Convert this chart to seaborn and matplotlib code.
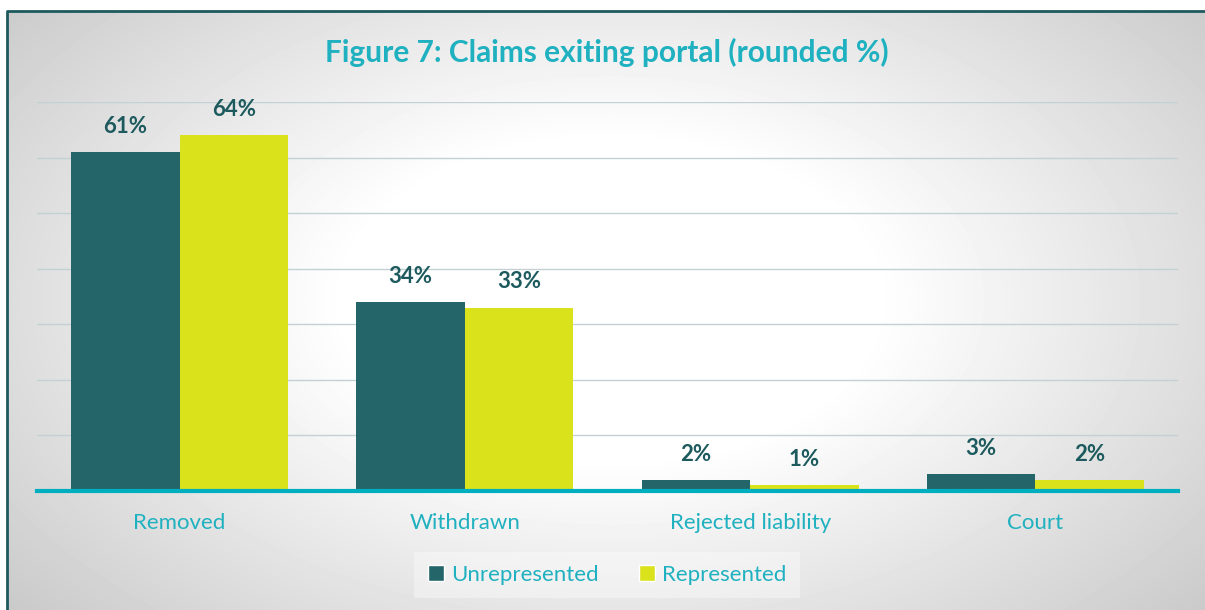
import numpy as np
import pandas as pd
import seaborn as sns
import matplotlib.pyplot as plt
from matplotlib.patches import Patch

categories = ["Removed", "Withdrawn", "Rejected liability", "Court"]
unrepresented = [61, 34, 2, 3]
represented = [64, 33, 1, 2]
groups = ["Unrepresented", "Represented"]

df = pd.DataFrame({
    "Outcome": categories * 2,
    "Share": unrepresented + represented,
    "Group": [groups[0]] * len(categories) + [groups[1]] * len(categories),
})

sns.set_style("white")
plt.rcParams["font.family"] = ["Lato", "DejaVu Sans"]

teal = "#1FB1BF"
dark = "#236569"
yellow = "#DAE21C"
label_col = "#1D5A5E"

W, H = 1205, 610
fig = plt.figure(figsize=(W / 100, H / 100), dpi=100)

# radial grey background inside the frame, white in the middle
yy, xx = np.mgrid[0:H, 0:W]
r = np.hypot((xx - 610) / 700, (yy - 300) / 420)
shade = np.clip(1 - 0.28 * np.clip(r - 0.38, 0, None), 0, 1)
shade[:11, :] = 1
shade[:, :7] = 1
bg = fig.add_axes([0, 0, 1, 1], zorder=-1)
bg.imshow(shade, cmap="gray", vmin=0, vmax=1, extent=(0, W, H, 0),
          aspect="auto", interpolation="bilinear")
bg.plot([7, 7, W + 5], [H + 5, 11, 11], color=label_col, lw=2)
bg.set_xlim(0, W)
bg.set_ylim(H, 0)
bg.axis("off")

ax = fig.add_axes([37 / W, 1 - 491 / H, (1178 - 37) / W, (491 - 102) / H])
ax.set_facecolor("none")
sns.barplot(data=df, x="Outcome", y="Share", hue="Group", palette=[dark, yellow],
            width=0.76, gap=0, saturation=1, linewidth=0, ax=ax, legend=False)
ax.set_xlim(-0.5, 3.5)
ax.set_ylim(0, 70)
ax.set_yticks(range(0, 71, 10))
ax.yaxis.grid(True, color="#c3d1d3", lw=1)
ax.set_axisbelow(True)
ax.tick_params(axis="y", left=False, labelleft=False)
ax.tick_params(axis="x", bottom=False, labelsize=16, labelcolor=teal, pad=12)
for s in ["top", "right", "left"]:
    ax.spines[s].set_visible(False)
ax.spines["bottom"].set_color("#00AFBF")
ax.spines["bottom"].set_linewidth(3)
ax.set_xlabel("")
ax.set_ylabel("")

for cont in ax.containers:
    ax.bar_label(cont, labels=[f"{v:.0f}%" for v in cont.datavalues], padding=11,
                 fontsize=16, fontweight="bold", color=label_col)

fig.text(607 / W, 1 - 52 / H, "Figure 7: Claims exiting portal (rounded %)",
         ha="center", va="center", fontsize=21.5, fontweight="bold", color=teal)

handles = [Patch(facecolor=dark), Patch(facecolor=yellow)]
leg = fig.legend(handles, groups, loc="center", bbox_to_anchor=(607 / W, 1 - 575 / H),
                 ncol=2, frameon=True, facecolor="white", edgecolor="none",
                 framealpha=0.35, fancybox=False, fontsize=16, labelcolor=teal,
                 handlelength=0.75, handleheight=0.75, handletextpad=0.3,
                 columnspacing=1.8, borderpad=0.6, borderaxespad=0)

fig.savefig("out.png", dpi=100)
